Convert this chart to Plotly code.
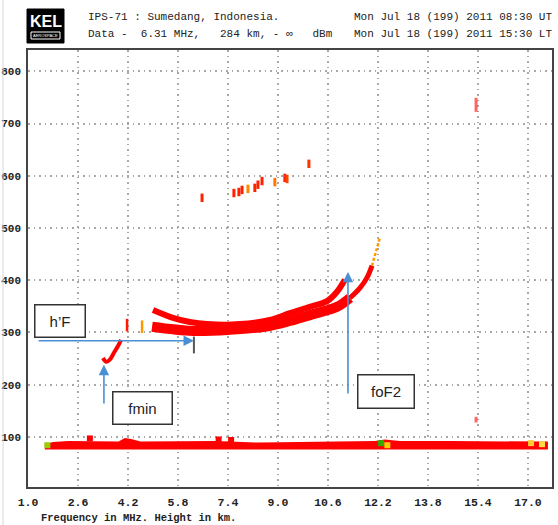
import plotly.graph_objects as go

# ---------------- data ----------------
# F-region trace, lower (main) branch
b_freq = [4.97, 6.28, 7.46, 8.58, 9.38, 10.18, 10.89, 11.30]
b_height = [311, 303, 305, 311, 322, 336, 349, 366]
# lower branch, thinner end towards foF2
b2_freq = [11.30, 11.62, 11.85, 12.01]
b2_height = [366, 385, 405, 428]
# faint orange tail at the top of the trace
tail_freq = [12.01, 12.10, 12.20, 12.26]
tail_height = [428, 447, 466, 481]
# upper branch
a_freq = [5.00, 5.64, 6.18, 6.73, 7.78, 8.74, 9.38, 10.02, 10.57, 10.89, 11.14]
a_height = [343, 328, 320, 316, 316, 324, 337, 349, 360, 378, 401]
# trace near fmin
fmin_trace_freq = [3.40, 3.50, 3.62, 3.75, 3.88, 3.98]
fmin_trace_height = [251, 244, 248, 261, 274, 286]
# isolated fragments near the start of the F trace
frag_freq = [4.17, 4.65]
frag_height = [314, 311]
frag_color = ["#ff1a00", "#ff9900"]
# multiple-hop echoes
echo_freq = [6.57, 7.59, 7.75, 7.85, 8.04, 8.26, 8.36, 8.49, 8.90, 9.22, 9.29, 9.99]
echo_height = [558, 567, 569, 573, 575, 577, 583, 590, 588, 596, 594, 623]
echo_color = ["#ff2200", "#ff2200", "#ff2200", "#ff2200", "#ff8800", "#ff2200",
              "#ff2200", "#ff2200", "#ff7700", "#ff2200", "#ff4400", "#ff3300"]
# isolated spikes near 15.3 MHz
spike_freq = [15.34, 15.34]
spike_height = [736, 133]
spike_size = [10, 4]
# E / ground band around 85 km
band_freq = [1.54, 1.80, 2.30, 2.98, 3.90, 4.10, 4.30, 4.60, 5.86, 6.98, 8.42,
             9.70, 10.98, 12.10, 12.42, 12.90, 14.50, 16.10, 17.64]
band_top = [86, 90, 92, 91, 91, 98, 96, 91, 91, 92, 89,
            90, 90, 92, 95, 92, 92, 92, 91]
band_base = 76
blob_freq = [2.98, 7.10, 7.50]
blob_height = [97, 95, 94]
patch_freq = [1.62, 12.30, 12.50, 17.10, 17.45]
patch_height = [84, 88, 84, 88, 86]
patch_color = ["#99cc00", "#33aa00", "#ffcc00", "#ffcc33", "#ffdd44"]

# scaled parameters
hF_freq, hF_height = 6.31, 284
fmin_value = 3.43
foF2_value = 11.24

x_ticks = [1.0, 2.6, 4.2, 5.8, 7.4, 9.0, 10.6, 12.2, 13.8, 15.4, 17.0]
x_tick_text = ["1.0", "2.6", "4.2", "5.8", "7.4", "9.0", "10.6", "12.2", "13.8", "15.4", "17.0"]
y_ticks = [100, 200, 300, 400, 500, 600, 700, 800]

RED = "#ff0000"
MONO = "Liberation Mono"

fig = go.Figure()

# ground band
fig.add_trace(go.Scatter(
    x=band_freq + band_freq[::-1],
    y=band_top + [band_base] * len(band_freq),
    fill="toself", fillcolor=RED, line=dict(width=0), mode="lines",
    hoverinfo="skip", showlegend=False))
fig.add_trace(go.Scatter(x=blob_freq, y=blob_height, mode="markers",
                         marker=dict(color=RED, size=6, symbol="square"),
                         showlegend=False))
fig.add_trace(go.Scatter(x=patch_freq, y=patch_height, mode="markers",
                         marker=dict(color=patch_color, size=6, symbol="square"),
                         showlegend=False))

# F traces
fig.add_trace(go.Scatter(x=a_freq, y=a_height, mode="lines",
                         line=dict(color=RED, width=6, shape="spline"),
                         showlegend=False))
fig.add_trace(go.Scatter(x=b_freq, y=b_height, mode="lines",
                         line=dict(color=RED, width=10, shape="spline"),
                         showlegend=False))
fig.add_trace(go.Scatter(x=b2_freq, y=b2_height, mode="lines",
                         line=dict(color=RED, width=5, shape="spline"),
                         showlegend=False))
fig.add_trace(go.Scatter(x=tail_freq, y=tail_height, mode="lines",
                         line=dict(color="#ff9900", width=2.5, dash="3px,2px"),
                         showlegend=False))
fig.add_trace(go.Scatter(x=fmin_trace_freq, y=fmin_trace_height, mode="lines",
                         line=dict(color=RED, width=4, shape="spline"),
                         showlegend=False))
fig.add_trace(go.Scatter(x=frag_freq, y=frag_height, mode="markers",
                         marker=dict(symbol="line-ns", size=9,
                                     line=dict(color=frag_color, width=2.5)),
                         showlegend=False))
fig.add_trace(go.Scatter(x=echo_freq, y=echo_height, mode="markers",
                         marker=dict(symbol="line-ns", size=6,
                                     line=dict(color=echo_color, width=3)),
                         showlegend=False))
fig.add_trace(go.Scatter(x=spike_freq, y=spike_height, mode="markers",
                         marker=dict(symbol="line-ns", size=spike_size,
                                     line=dict(color="#ff2222", width=3)),
                         showlegend=False))
# cursor mark
fig.add_trace(go.Scatter(x=[hF_freq], y=[hF_height - 8], mode="markers",
                         marker=dict(symbol="line-ns", size=12,
                                     line=dict(color="#555555", width=2)),
                         showlegend=False))

ARROW = "#4a8fd4"
annotations = [
    # arrows
    dict(x=hF_freq, y=hF_height, ax=1.29, ay=hF_height, xref="x", yref="y",
         axref="x", ayref="y", text="", showarrow=True, arrowhead=2,
         arrowsize=1.3, arrowwidth=1.6, arrowcolor=ARROW),
    dict(x=fmin_value, y=238, ax=fmin_value, ay=161, xref="x", yref="y",
         axref="x", ayref="y", text="", showarrow=True, arrowhead=2,
         arrowsize=1.3, arrowwidth=1.6, arrowcolor=ARROW),
    dict(x=foF2_value, y=416, ax=foF2_value, ay=180, xref="x", yref="y",
         axref="x", ayref="y", text="", showarrow=True, arrowhead=2,
         arrowsize=1.3, arrowwidth=1.6, arrowcolor=ARROW),
    # labelled boxes
    dict(x=2.01, y=321, xref="x", yref="y", text="h’F", showarrow=False,
         width=49, height=31, bgcolor="white", bordercolor="#333", borderwidth=1.5,
         borderpad=0, font=dict(family="Liberation Sans", size=15, color="#222")),
    dict(x=4.68, y=156, xref="x", yref="y", text="fmin", showarrow=False,
         width=58, height=31, bgcolor="white", bordercolor="#333", borderwidth=1.5,
         borderpad=0, font=dict(family="Liberation Sans", size=15, color="#222")),
    dict(x=12.47, y=186, xref="x", yref="y", text="foF2", showarrow=False,
         width=55, height=32, bgcolor="white", bordercolor="#333", borderwidth=1.5,
         borderpad=0, font=dict(family="Liberation Sans", size=15, color="#222")),
]


def px(x):
    return (x - 28) / 524.0


def py(y):
    return (487 - y) / 437.0


def hdr(x, y, text, xanchor, font):
    return dict(x=px(x), y=py(y), xref="paper", yref="paper", text=text,
                xanchor=xanchor, yanchor="middle", showarrow=False, font=font)


hfont = dict(family=MONO, size=11, color="#222")
annotations += [
    hdr(45.5, 21, "<b>KEL</b>", "center",
        dict(family="Liberation Sans", size=16, color="white")),
    hdr(45.5, 35.5, "AEROSPACE", "center",
        dict(family="Liberation Sans", size=4, color="white")),
    hdr(86, 17, "IPS-71 : Sumedang, Indonesia.", "left", hfont),
    hdr(86, 34, "Data -  6.31 MHz,   284 km, - ∞   dBm", "left", hfont),
    hdr(554, 17, "Mon Jul 18 (199) 2011 08:30 UT", "right", hfont),
    hdr(554, 34, "Mon Jul 18 (199) 2011 15:30 LT", "right", hfont),
    hdr(39, 518, "<b>Frequency in MHz. Height in km.</b>", "left",
        dict(family=MONO, size=10.5, color="#222")),
]

shapes = [
    dict(type="rect", xref="paper", yref="paper", x0=px(27), x1=px(64),
         y0=py(43), y1=py(9), fillcolor="black", line=dict(color="black", width=1),
         layer="below"),
    dict(type="rect", xref="paper", yref="paper", x0=px(31), x1=px(60),
         y0=py(39), y1=py(32), fillcolor="black", line=dict(color="white", width=1),
         layer="below"),
    dict(type="line", xref="paper", yref="paper", x0=px(3), x1=px(3),
         y0=py(525), y1=py(0), line=dict(color="#d8d8d8", width=1)),
]

fig.update_layout(
    width=558, height=525,
    margin=dict(l=28, r=6, t=50, b=38, autoexpand=False),
    paper_bgcolor="white", plot_bgcolor="white",
    showlegend=False,
    annotations=annotations, shapes=shapes,
    xaxis=dict(range=[1.0, 17.77], tickvals=x_ticks, ticktext=x_tick_text,
               showgrid=True, gridcolor="#a8a8a8", gridwidth=1.5, griddash="1.5px,4px",
               zeroline=False, showline=True, mirror=True, linecolor="#444",
               linewidth=1.5, ticks="outside", ticklen=3,
               tickcolor="rgba(0,0,0,0)", automargin=False,
               tickfont=dict(family=MONO, size=11.5, color="#222", weight="bold")),
    yaxis=dict(range=[4, 841], tickvals=y_ticks,
               showgrid=True, gridcolor="#a8a8a8", gridwidth=1.5, griddash="1.5px,4px",
               zeroline=False, showline=True, mirror=True, linecolor="#444",
               linewidth=1.5, ticks="outside", ticklen=3,
               tickcolor="rgba(0,0,0,0)", automargin=False,
               tickfont=dict(family=MONO, size=11, color="#222", weight="bold")),
)

fig.write_html("out.html", config={"displayModeBar": False},
               post_script="document.body.style.margin='0';")
